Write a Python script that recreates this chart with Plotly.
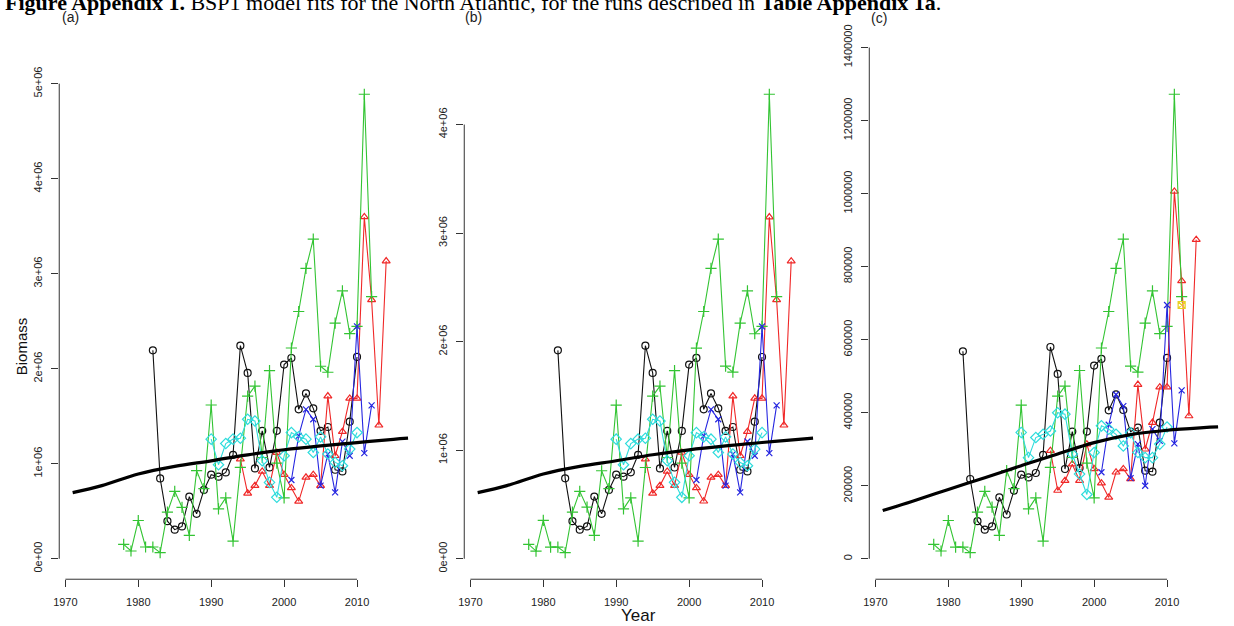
import plotly.graph_objects as go

W, H = 1234, 626

# ---------------- data ----------------
fit_years = [1971, 1975, 1980, 1985, 1990, 1995, 2000, 2005, 2010, 2015, 2017]
fit_a = [696000, 770000, 892000, 972000, 1031000, 1094000, 1147000, 1188000, 1223000, 1257000, 1269000]
fit_b = [610000, 674000, 781000, 851000, 903000, 958000, 1004000, 1040000, 1071000, 1100000, 1111000]
fit_c = [132000, 157000, 190000, 222000, 255000, 287000, 318000, 340000, 352000, 359000, 361000]

green_years = list(range(1978, 2013))
green_a = [152000, 82000, 403000, 124000, 124000, 65000, 490000, 710000, 542000, 246000, 927000, 738000,
           1618000, 526000, 641000, 186000, 961000, 1712000, 1817000, 1066000, 1981000, 1007000, 641000,
           2218000, 2602000, 3055000, 3363000, 2026000, 1963000, 2480000, 2819000, 2369000, 2445000,
           4888000, 2759000]
green_b = [133000, 71000, 353000, 108000, 108000, 57000, 429000, 621000, 475000, 215000, 811000, 646000,
           1416000, 460000, 561000, 163000, 841000, 1499000, 1590000, 933000, 1734000, 882000, 561000,
           1941000, 2278000, 2675000, 2944000, 1774000, 1719000, 2170000, 2467000, 2073000, 2140000,
           4279000, 2415000]
green_c = [39500, 21300, 104900, 32200, 32200, 16900, 127500, 184800, 141200, 64000, 241200, 192100,
           421000, 136800, 166800, 48500, 250200, 445500, 472800, 277400, 515600, 262100, 166800,
           577200, 677200, 795100, 875300, 527300, 510900, 645300, 733600, 616400, 636300,
           1272000, 718000]

black_years = list(range(1982, 2011))
black_a = [2194000, 846000, 396000, 306000, 340000, 654000, 473000, 725000, 885000, 864000, 909000,
           1094000, 2243000, 1956000, 951000, 1346000, 961000, 1346000, 2044000, 2113000, 1573000,
           1740000, 1583000, 1346000, 1387000, 937000, 919000, 1443000, 2124000]
black_b = [1920000, 741000, 346000, 268000, 298000, 573000, 414000, 634000, 775000, 756000, 796000,
           958000, 1963000, 1712000, 832000, 1178000, 841000, 1178000, 1789000, 1850000, 1377000,
           1523000, 1386000, 1178000, 1214000, 820000, 805000, 1263000, 1859000]
black_c = [568200, 218500, 103000, 79600, 88600, 168400, 121300, 186700, 230300, 222900, 234900,
           284800, 579900, 506300, 245800, 348300, 248500, 348300, 529200, 547200, 406600,
           450200, 407400, 348300, 359200, 241200, 238400, 372800, 549900]

red_years = list(range(1994, 2015))
red_a = [1049000, 689000, 770000, 919000, 770000, 1118000, 885000, 746000, 605000, 857000, 885000,
         770000, 1712000, 1084000, 1338000, 1688000, 1688000, 3597000, 2725000, 1405000, 3133000]
red_b = [918000, 603000, 674000, 805000, 674000, 979000, 775000, 653000, 530000, 750000, 775000,
         674000, 1499000, 949000, 1171000, 1478000, 1478000, 3148000, 2385000, 1230000, 2742000]
red_c = [296000, 187000, 214000, 259000, 214000, 314000, 246000, 207000, 168000, 237000, 246000,
         219000, 477000, 300000, 373000, 470000, 470000, 1006000, 761000, 391000, 874000]

blue_years = list(range(2001, 2013))
blue_a = [829000, 1293000, 1573000, 1468000, 770000, 1102000, 699000, 1233000, 1084000, 2445000, 1112000, 1615000]
blue_b = [726000, 1132000, 1377000, 1285000, 674000, 964000, 612000, 1080000, 949000, 2140000, 973000, 1413000]
blue_c = [237000, 367000, 450000, 418000, 221000, 314000, 200000, 355000, 323000, 695000, 316000, 461000]

cyan_years = list(range(1990, 2011))
cyan_a = [1259000, 990000, 1213000, 1259000, 1269000, 1468000, 1450000, 1031000, 804000, 647000, 1084000,
          1328000, 1283000, 1259000, 1118000, 1283000, 1102000, 1014000, 979000, 1154000, 1328000]
cyan_b = [1102000, 866000, 1061000, 1102000, 1111000, 1285000, 1269000, 903000, 704000, 566000, 949000,
          1162000, 1123000, 1102000, 979000, 1123000, 964000, 887000, 857000, 1010000, 1162000]
cyan_c = [346000, 277000, 332000, 341000, 350000, 400000, 396000, 287000, 232000, 176000, 291000,
          364000, 355000, 341000, 309000, 345000, 291000, 277000, 277000, 314000, 361000]

yellow_years = [2012]
yellow_c = [695000]

x_ticks = [1970, 1980, 1990, 2000, 2010]
y_ticks_a = [0, 1000000, 2000000, 3000000, 4000000, 5000000]
y_labels_a = ["0e+00", "1e+06", "2e+06", "3e+06", "4e+06", "5e+06"]
y_ticks_b = [0, 1000000, 2000000, 3000000, 4000000]
y_labels_b = ["0e+00", "1e+06", "2e+06", "3e+06", "4e+06"]
y_ticks_c = [0, 200000, 400000, 600000, 800000, 1000000, 1200000, 1400000]
y_labels_c = ["0", "200000", "400000", "600000", "800000", "1000000", "1200000", "1400000"]

panel_labels = ["(a)", "(b)", "(c)"]
title_html = ("<b>Figure Appendix 1.</b> BSP1 model fits for the North Atlantic, for the runs "
              "described in <b>Table Appendix 1a</b>.")

# ---------------- styling ----------------
FONT = "Liberation Sans, Arial, Helvetica, sans-serif"
COL_BLACK = "#111111"
COL_RED = "#F02828"
COL_GREEN = "#33C433"
COL_BLUE = "#2626E0"
COL_CYAN = "#2EDCDC"
COL_YELLOW = "#E8D020"

fig = go.Figure()

panels = [
    dict(fit=fit_a, g=green_a, k=black_a, r=red_a, b=blue_a, c=cyan_a, yl=None,
         yt=y_ticks_a, ylab=y_labels_a, x0px=53.5),
    dict(fit=fit_b, g=green_b, k=black_b, r=red_b, b=blue_b, c=cyan_b, yl=None,
         yt=y_ticks_b, ylab=y_labels_b, x0px=460.5),
    dict(fit=fit_c, g=green_c, k=black_c, r=red_c, b=blue_c, c=cyan_c, yl=yellow_c,
         yt=y_ticks_c, ylab=y_labels_c, x0px=867.5),
]

PW = 364.0
top_px, bot_px = 24.5, 579.0
ydom = [1 - bot_px / H, 1 - top_px / H]

def series(xs, ys, color, symbol, xa, ya, size=7):
    return go.Scatter(x=xs, y=ys, mode="lines+markers", xaxis=xa, yaxis=ya,
                      line=dict(color=color, width=1.1),
                      marker=dict(symbol=symbol, size=size, color=color,
                                  line=dict(color=color, width=1.2)),
                      showlegend=False, hoverinfo="skip")

shapes = []
annotations = []
for i, p in enumerate(panels):
    n = "" if i == 0 else str(i + 1)
    xa, ya = "x" + n, "y" + n
    fig.add_trace(series(black_years, p["k"], COL_BLACK, "circle-open", xa, ya))
    fig.add_trace(series(red_years, p["r"], COL_RED, "triangle-up-open", xa, ya))
    fig.add_trace(series(green_years, p["g"], COL_GREEN, "cross-thin-open", xa, ya, 8))
    fig.add_trace(series(blue_years, p["b"], COL_BLUE, "x-thin-open", xa, ya, 6))
    fig.add_trace(series(cyan_years, p["c"], COL_CYAN, "diamond-open", xa, ya, 8))
    if p["yl"] is not None:
        fig.add_trace(series(yellow_years, p["yl"], COL_YELLOW, "square-x-open", xa, ya))
    fig.add_trace(go.Scatter(x=fit_years, y=p["fit"], mode="lines", xaxis=xa, yaxis=ya,
                             line=dict(color="black", width=3.2, shape="spline"),
                             showlegend=False, hoverinfo="skip"))

    ymax = max(p["g"] + p["k"] + p["r"] + p["b"] + p["c"])
    top = 1.1 * ymax
    pad = 0.04 * top
    xd = [p["x0px"] / W, (p["x0px"] + PW) / W]
    fig.layout["xaxis" + n] = dict(
        domain=xd, range=[1969.16, 2018.84], anchor=ya,
        tickvals=x_ticks, ticktext=[str(t) for t in x_ticks],
        ticks="outside", ticklen=7, tickwidth=1, tickcolor="#333",
        showline=False, showgrid=False, zeroline=False,
        tickfont=dict(family=FONT, size=11, color="#222"), ticklabelstandoff=6)
    fig.layout["yaxis" + n] = dict(
        domain=ydom, range=[-pad, top + pad], anchor=xa,
        tickvals=p["yt"], ticktext=p["ylab"], tickangle=-90,
        ticks="outside", ticklen=7, tickwidth=1, tickcolor="#333",
        showline=False, showgrid=False, zeroline=False,
        tickfont=dict(family=FONT, size=11, color="#222"), ticklabelstandoff=5)
    # R-style axis lines spanning first to last tick
    shapes.append(dict(type="line", xref=xa + " domain", yref=ya, x0=0, x1=0,
                       y0=p["yt"][0], y1=p["yt"][-1], line=dict(color="#333", width=1)))
    shapes.append(dict(type="line", xref=xa, yref=ya + " domain", x0=x_ticks[0], x1=x_ticks[-1],
                       y0=0, y1=0, line=dict(color="#333", width=1)))

# title (partly cut off at the top, as in the reference)
annotations.append(dict(text=title_html, xref="paper", yref="paper", x=-2 / W, y=1 - 13 / H,
                        xanchor="left", yanchor="bottom", showarrow=False, borderpad=0,
                        font=dict(family="Liberation Serif, Times New Roman, serif", size=22,
                                  color="black")))

# panel labels
for lab, xpx, ypx in zip(panel_labels, [65, 470, 877], [14, 14, 15]):
    annotations.append(dict(text=lab, xref="paper", yref="paper", x=xpx / W, y=1 - ypx / H,
                            xanchor="center", yanchor="middle", showarrow=False,
                            bgcolor="rgba(255,255,255,0)",
                            font=dict(family=FONT, size=14, color="#222")))

annotations.append(dict(text="Biomass", xref="paper", yref="paper", x=15 / W, y=1 - 345 / H,
                        xanchor="center", yanchor="middle", textangle=-90, showarrow=False,
                        font=dict(family=FONT, size=15, color="#111")))
annotations.append(dict(text="Year", xref="paper", yref="paper", x=636 / W, y=1 - 615 / H,
                        xanchor="center", yanchor="middle", showarrow=False,
                        font=dict(family=FONT, size=17, color="#111")))

fig.update_layout(width=W, height=H, margin=dict(l=0, r=0, t=0, b=0),
                  paper_bgcolor="white", plot_bgcolor="white",
                  shapes=shapes, annotations=annotations)

fig.write_html("out.html")
